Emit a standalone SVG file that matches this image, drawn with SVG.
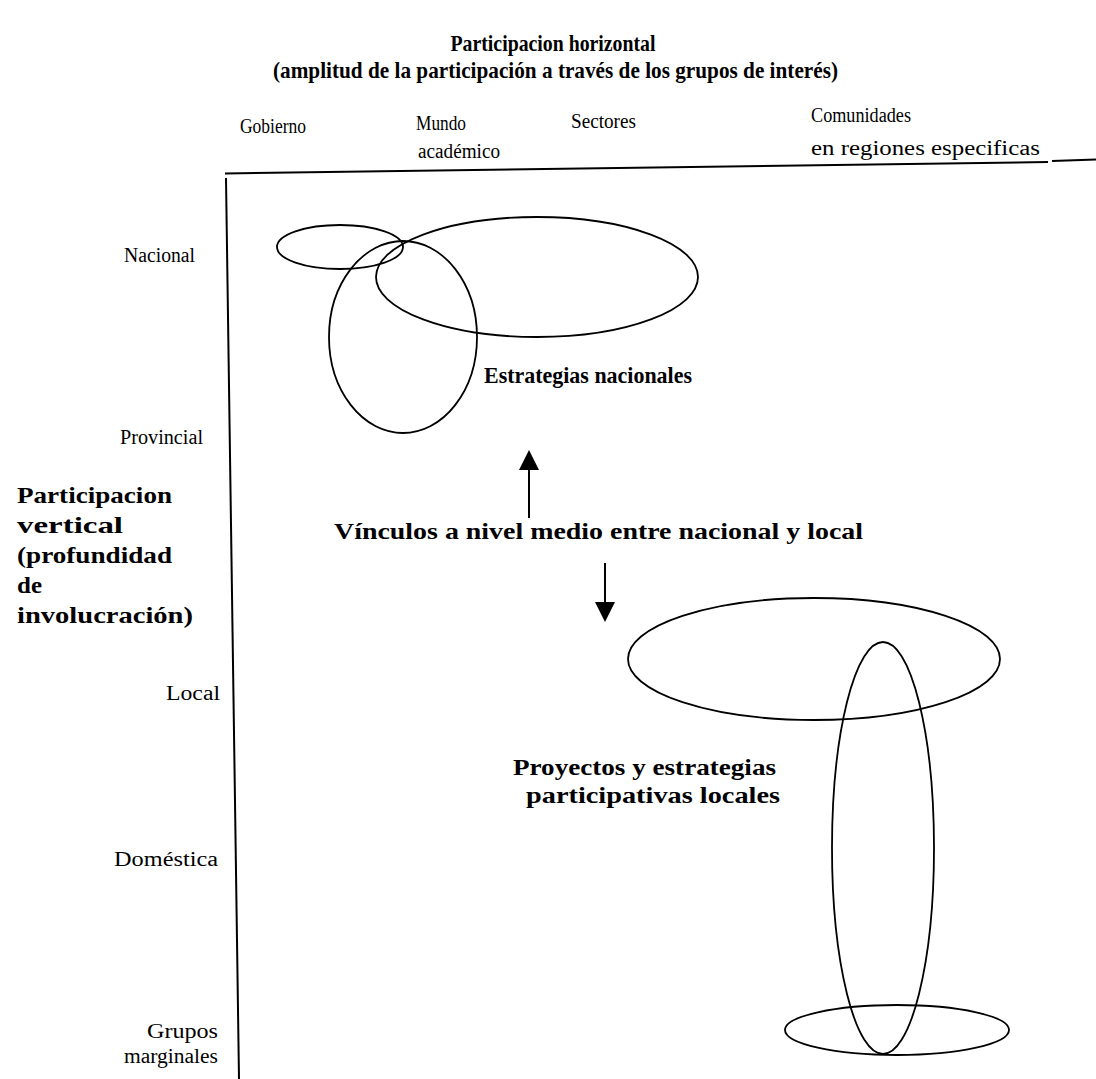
<svg xmlns="http://www.w3.org/2000/svg" width="1096" height="1079" viewBox="0 0 1096 1079">
  <style>
    .lbl { font-family: "Liberation Serif", "Times New Roman", serif; font-size: 20px; fill: #000; }
    .bold { font-family: "Liberation Serif", "Times New Roman", serif; font-size: 23px; font-weight: bold; fill: #000; }
    .axis { stroke: #000; stroke-width: 2; fill: none; }
    .set { stroke: #000; stroke-width: 1.8; fill: none; }
    .shaft { stroke: #000; stroke-width: 2; fill: none; }
  </style>
  <defs>
    <marker id="bighead" viewBox="0 0 10 10" refX="9" refY="5" markerWidth="22" markerHeight="20" markerUnits="userSpaceOnUse" orient="auto">
      <path d="M0,0 L10,5 L0,10 Z" fill="#000"/>
    </marker>
  </defs>

  <rect width="1096" height="1079" fill="#fff"/>

  <!-- heading -->
  <g id="heading">
    <text class="bold" x="553" y="51" text-anchor="middle" textLength="205" lengthAdjust="spacingAndGlyphs">Participacion horizontal</text>
    <text class="bold" x="273" y="78" textLength="565" lengthAdjust="spacingAndGlyphs">(amplitud de la participación a través de los grupos de interés)</text>
  </g>

  <!-- axes -->
  <g id="axes">
    <line class="axis" x1="225" y1="173.5" x2="1048" y2="162"/>
    <line class="axis" x1="1052" y1="161" x2="1096" y2="159.5"/>
    <line class="axis" x1="226" y1="178" x2="239" y2="1079"/>
  </g>

  <!-- stakeholder columns -->
  <g id="col-gobierno"><text class="lbl" x="240" y="133" textLength="66" lengthAdjust="spacingAndGlyphs">Gobierno</text></g>
  <g id="col-academia">
    <text class="lbl" x="416" y="130" textLength="50" lengthAdjust="spacingAndGlyphs">Mundo</text>
    <text class="lbl" x="418" y="158" textLength="82" lengthAdjust="spacingAndGlyphs">académico</text>
  </g>
  <g id="col-sectores"><text class="lbl" x="571" y="128" textLength="65" lengthAdjust="spacingAndGlyphs">Sectores</text></g>
  <g id="col-comunidades">
    <text class="lbl" x="811" y="122" textLength="100" lengthAdjust="spacingAndGlyphs">Comunidades</text>
    <text class="lbl" x="811" y="155" textLength="229" lengthAdjust="spacingAndGlyphs">en regiones especificas</text>
  </g>

  <!-- levels -->
  <g id="lvl-nacional"><text class="lbl" x="124" y="262" textLength="71" lengthAdjust="spacingAndGlyphs">Nacional</text></g>
  <g id="lvl-provincial"><text class="lbl" x="120" y="444" textLength="83" lengthAdjust="spacingAndGlyphs">Provincial</text></g>
  <g id="lvl-local"><text class="lbl" x="166" y="700" textLength="54" lengthAdjust="spacingAndGlyphs">Local</text></g>
  <g id="lvl-domestica"><text class="lbl" x="114" y="866" textLength="104" lengthAdjust="spacingAndGlyphs">Doméstica</text></g>
  <g id="lvl-marginales">
    <text class="lbl" x="147" y="1038" textLength="71" lengthAdjust="spacingAndGlyphs">Grupos</text>
    <text class="lbl" x="124" y="1063" textLength="94" lengthAdjust="spacingAndGlyphs">marginales</text>
  </g>

  <g id="vertical-title">
    <text class="bold" x="17" y="503" textLength="155" lengthAdjust="spacingAndGlyphs">Participacion</text>
    <text class="bold" x="17" y="533" textLength="106" lengthAdjust="spacingAndGlyphs">vertical</text>
    <text class="bold" x="17" y="563" textLength="155" lengthAdjust="spacingAndGlyphs">(profundidad</text>
    <text class="bold" x="17" y="593" textLength="25" lengthAdjust="spacingAndGlyphs">de</text>
    <text class="bold" x="17" y="623" textLength="176" lengthAdjust="spacingAndGlyphs">involucración)</text>
  </g>

  <!-- national cluster -->
  <g id="national">
    <ellipse class="set" cx="340" cy="247" rx="63" ry="22"/>
    <ellipse class="set" cx="537" cy="277" rx="161" ry="60"/>
    <ellipse class="set" cx="403" cy="337" rx="74" ry="96"/>
    <text class="bold" x="484" y="383" textLength="208" lengthAdjust="spacingAndGlyphs">Estrategias nacionales</text>
  </g>

  <!-- middle links -->
  <g id="links">
    <text class="bold" x="334" y="539" textLength="529" lengthAdjust="spacingAndGlyphs">Vínculos a nivel medio entre nacional y local</text>
  </g>

  <!-- local cluster -->
  <g id="local">
    <ellipse class="set" cx="814" cy="659" rx="186" ry="61"/>
    <ellipse class="set" cx="883" cy="848" rx="51" ry="206"/>
    <ellipse class="set" cx="897" cy="1030" rx="112" ry="25"/>
    <text class="bold" x="513" y="775" textLength="263" lengthAdjust="spacingAndGlyphs">Proyectos y estrategias</text>
    <text class="bold" x="526" y="803" textLength="254" lengthAdjust="spacingAndGlyphs">participativas locales</text>
  </g>

  <!-- connectors -->
  <g id="connectors">
    <line class="shaft" x1="529" y1="518" x2="529" y2="452" marker-end="url(#bighead)"/>
    <line class="shaft" x1="605" y1="563" x2="605" y2="620" marker-end="url(#bighead)"/>
  </g>
</svg>
